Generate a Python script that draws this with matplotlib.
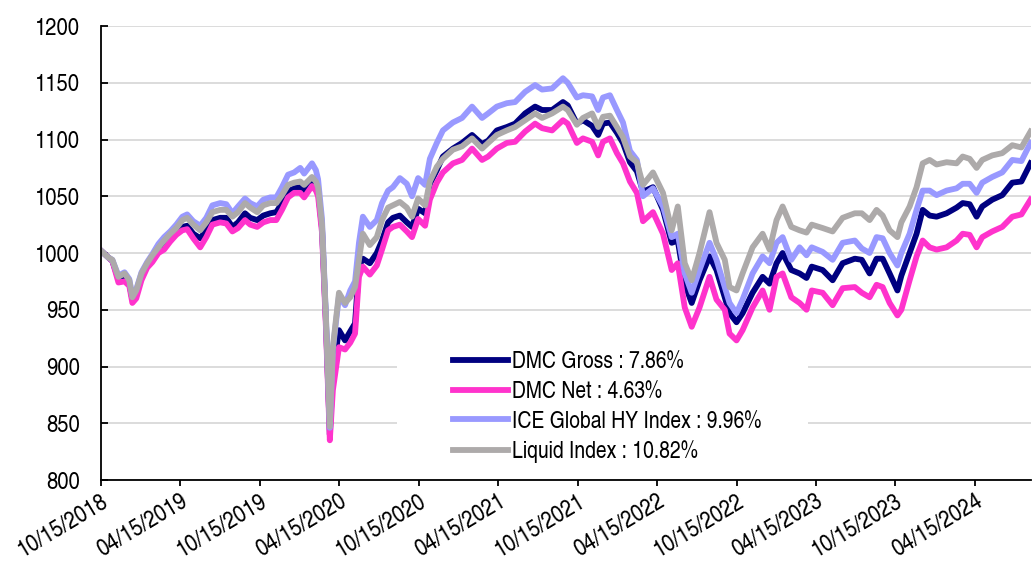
import matplotlib
matplotlib.use('Agg')
import matplotlib.dates as mdates
import matplotlib.pyplot as plt
import pandas as pd
from matplotlib.patches import Rectangle

plt.rcParams['font.family'] = ['TeX Gyre Heros Cn', 'Roboto Condensed', 'DejaVu Sans']

dates = [
    '2018-10-15', '2018-11-01', '2018-11-10', '2018-11-24', '2018-12-08', '2018-12-19',
    '2018-12-26', '2019-01-04', '2019-01-16', '2019-01-29', '2019-02-10', '2019-02-24',
    '2019-03-09', '2019-03-23', '2019-04-06', '2019-04-20', '2019-05-01', '2019-05-15',
    '2019-05-31', '2019-06-14', '2019-06-28', '2019-07-16', '2019-07-30', '2019-08-13',
    '2019-08-26', '2019-09-11', '2019-09-23', '2019-10-09', '2019-10-23', '2019-11-08',
    '2019-11-22', '2019-12-05', '2019-12-19', '2020-01-02', '2020-01-16', '2020-01-25',
    '2020-02-12', '2020-02-21', '2020-02-26', '2020-03-06', '2020-03-15', '2020-03-24',
    '2020-03-31', '2020-04-14', '2020-04-28', '2020-05-10', '2020-05-21', '2020-05-30',
    '2020-06-08', '2020-06-24', '2020-07-10', '2020-07-22', '2020-08-05', '2020-08-16',
    '2020-09-01', '2020-09-17', '2020-09-29', '2020-10-13', '2020-10-29', '2020-11-09',
    '2020-11-25', '2020-12-09', '2021-01-01', '2021-01-22', '2021-02-14', '2021-03-09',
    '2021-03-23', '2021-04-12', '2021-05-05', '2021-05-24', '2021-06-16', '2021-07-09',
    '2021-07-25', '2021-08-17', '2021-09-11', '2021-09-22', '2021-10-13', '2021-10-27',
    '2021-11-17', '2021-12-01', '2021-12-12', '2021-12-28', '2022-01-13', '2022-01-27',
    '2022-02-12', '2022-02-28', '2022-03-14', '2022-04-06', '2022-04-29', '2022-05-19',
    '2022-06-02', '2022-06-18', '2022-07-04', '2022-07-22', '2022-08-14', '2022-08-30',
    '2022-09-18', '2022-09-29', '2022-10-15', '2022-10-29', '2022-11-21', '2022-12-14',
    '2022-12-30', '2023-01-15', '2023-01-29', '2023-02-18', '2023-03-09', '2023-03-25',
    '2023-04-06', '2023-05-01', '2023-05-24', '2023-06-16', '2023-07-14', '2023-07-30',
    '2023-08-17', '2023-09-02', '2023-09-16', '2023-10-02', '2023-10-20', '2023-10-29',
    '2023-11-17', '2023-12-03', '2023-12-17', '2024-01-02', '2024-01-18', '2024-02-10',
    '2024-03-04', '2024-03-18', '2024-04-03', '2024-04-19', '2024-05-02', '2024-05-25',
    '2024-06-17', '2024-07-10', '2024-07-31', '2024-08-21',
]

ice_hy = [
    1002, 996, 994, 980, 983, 977, 962, 968, 983, 992, 999, 1008,
    1014, 1019, 1025, 1032, 1034, 1028, 1024, 1031, 1042, 1044, 1043, 1035,
    1041, 1048, 1044, 1041, 1047, 1049, 1049, 1058, 1069, 1071, 1075, 1070,
    1079, 1073, 1065, 1030, 945, 846, 915, 962, 954, 967, 975, 1009,
    1032, 1023, 1029, 1044, 1055, 1058, 1066, 1061, 1050, 1066, 1060, 1083,
    1097, 1108, 1115, 1119, 1129, 1119, 1123, 1129, 1132, 1133, 1142, 1148,
    1144, 1145, 1154, 1150, 1137, 1139, 1138, 1126, 1137, 1139, 1126, 1115,
    1090, 1082, 1050, 1057, 1041, 1014, 1017, 982, 965, 985, 1009, 994,
    970, 956, 947, 959, 982, 997, 991, 1009, 1014, 994, 1005, 998,
    1005, 1001, 994, 1009, 1011, 1004, 1000, 1014, 1013, 1000, 989, 1000,
    1017, 1038, 1055, 1055, 1051, 1055, 1057, 1061, 1061, 1053, 1062, 1067,
    1071, 1082, 1081, 1097,
]

liquid = [
    1002, 996, 994, 979, 982, 976, 961, 967, 982, 991, 998, 1005,
    1011, 1017, 1022, 1029, 1031, 1025, 1020, 1027, 1036, 1038, 1038, 1032,
    1036, 1044, 1040, 1036, 1042, 1044, 1044, 1051, 1060, 1062, 1063, 1060,
    1067, 1063, 1058, 1025, 944, 847, 917, 965, 956, 961, 970, 994,
    1017, 1007, 1014, 1029, 1040, 1042, 1045, 1040, 1032, 1048, 1042, 1063,
    1076, 1083, 1091, 1094, 1101, 1092, 1097, 1104, 1108, 1111, 1117, 1123,
    1119, 1123, 1129, 1126, 1113, 1119, 1123, 1111, 1120, 1121, 1111, 1102,
    1085, 1080, 1060, 1071, 1053, 1020, 1041, 991, 976, 1000, 1036, 1009,
    994, 970, 967, 982, 1005, 1017, 1003, 1029, 1041, 1023, 1020, 1018,
    1025, 1022, 1019, 1031, 1035, 1035, 1029, 1038, 1033, 1020, 1014, 1027,
    1041, 1058, 1079, 1082, 1078, 1080, 1079, 1085, 1083, 1075, 1082, 1086,
    1088, 1095, 1093, 1107,
]

dmc_gross = [
    1002, 996, 993, 977, 979, 973, 959, 964, 979, 989, 995, 1003,
    1007, 1013, 1019, 1023, 1024, 1017, 1013, 1020, 1029, 1031, 1031, 1023,
    1027, 1035, 1031, 1029, 1033, 1035, 1036, 1044, 1054, 1057, 1058, 1055,
    1062, 1059, 1055, 1022, 940, 840, 895, 932, 923, 931, 938, 988,
    995, 991, 1000, 1011, 1027, 1031, 1033, 1027, 1023, 1039, 1035, 1061,
    1073, 1085, 1092, 1097, 1104, 1096, 1099, 1108, 1111, 1114, 1123, 1129,
    1126, 1126, 1133, 1130, 1114, 1117, 1112, 1104, 1114, 1115, 1106, 1097,
    1080, 1072, 1054, 1058, 1038, 1009, 1011, 973, 956, 976, 997, 985,
    961, 947, 939, 947, 965, 979, 973, 991, 1000, 985, 982, 978,
    988, 985, 976, 991, 995, 994, 982, 995, 995, 982, 967, 980,
    1000, 1017, 1038, 1033, 1032, 1035, 1040, 1044, 1043, 1032, 1041, 1047,
    1051, 1062, 1063, 1079,
]

dmc_net = [
    1002, 996, 993, 974, 975, 971, 956, 960, 976, 987, 992, 1000,
    1003, 1010, 1016, 1020, 1021, 1013, 1005, 1014, 1025, 1027, 1026, 1019,
    1022, 1029, 1025, 1023, 1027, 1029, 1029, 1038, 1049, 1053, 1053, 1049,
    1059, 1055, 1050, 1018, 935, 835, 879, 917, 915, 921, 929, 979,
    988, 981, 989, 1003, 1020, 1023, 1025, 1019, 1014, 1030, 1024, 1047,
    1062, 1071, 1079, 1082, 1092, 1082, 1085, 1092, 1097, 1098, 1107, 1114,
    1110, 1108, 1117, 1114, 1097, 1101, 1098, 1086, 1098, 1101, 1088, 1079,
    1063, 1053, 1028, 1036, 1017, 985, 991, 952, 935, 952, 979, 959,
    950, 929, 923, 932, 952, 967, 950, 979, 982, 961, 956, 950,
    967, 965, 954, 969, 970, 965, 961, 972, 970, 956, 945, 950,
    976, 997, 1011, 1005, 1003, 1005, 1011, 1017, 1016, 1005, 1014, 1019,
    1023, 1032, 1034, 1047,
]

labels = [
    'DMC Gross : 7.86%',
    'DMC Net : 4.63%',
    'ICE Global HY Index : 9.96%',
    'Liquid Index : 10.82%',
]
colors = ['#000080', '#FF33CC', '#9999FF', '#ADAAAA']

x = pd.to_datetime(dates)

fig = plt.figure(figsize=(10.32, 5.73), dpi=100)
ax = fig.add_axes([0.0979, 0.1623, 0.9011, 0.7923])

for vals, lab, col in zip([dmc_gross, dmc_net, ice_hy, liquid], labels, colors):
    ax.plot(x, vals, color=col, lw=4.2, label=lab, solid_joinstyle='round')

ax.set_ylim(800, 1200)
ax.set_yticks(range(800, 1201, 50))
ax.set_xlim(pd.Timestamp('2018-10-15'), pd.Timestamp('2024-08-22'))

tick_dates = pd.to_datetime(['2018-10-15', '2019-04-15', '2019-10-15', '2020-04-15',
                             '2020-10-15', '2021-04-15', '2021-10-15', '2022-04-15',
                             '2022-10-15', '2023-04-15', '2023-10-15', '2024-04-15'])
ax.set_xticks(tick_dates)
ax.xaxis.set_major_formatter(mdates.DateFormatter('%m/%d/%Y'))

ax.spines['top'].set_visible(False)
ax.spines['right'].set_visible(False)
ax.spines['left'].set_linewidth(1.3)
ax.spines['bottom'].set_linewidth(1.3)

ax.set_axisbelow(True)
ax.grid(True, axis='y', color='#D9D9D9', lw=1.3)
ax.tick_params(axis='y', direction='in', length=5, width=1.3, labelsize=17.8, pad=15)
ax.tick_params(axis='x', direction='out', length=4.5, width=1.3, labelsize=17.8, pad=3)
for lbl in ax.get_xticklabels():
    lbl.set_rotation(31)
    lbl.set_ha('right')
    lbl.set_va('top')
    lbl.set_rotation_mode('anchor')

# white box behind the legend hides the gridlines
ax.add_patch(Rectangle((0.318, 0.03), 0.442, 0.29, transform=ax.transAxes,
                       facecolor='white', edgecolor='none', zorder=1.5))

ax.legend(loc='upper left', bbox_to_anchor=(0.3785, 0.284), frameon=False,
          fontsize=17, handlelength=2.33, handletextpad=0.17, labelspacing=0.33,
          borderpad=0, borderaxespad=0)

fig.savefig('out.png', dpi=100)
